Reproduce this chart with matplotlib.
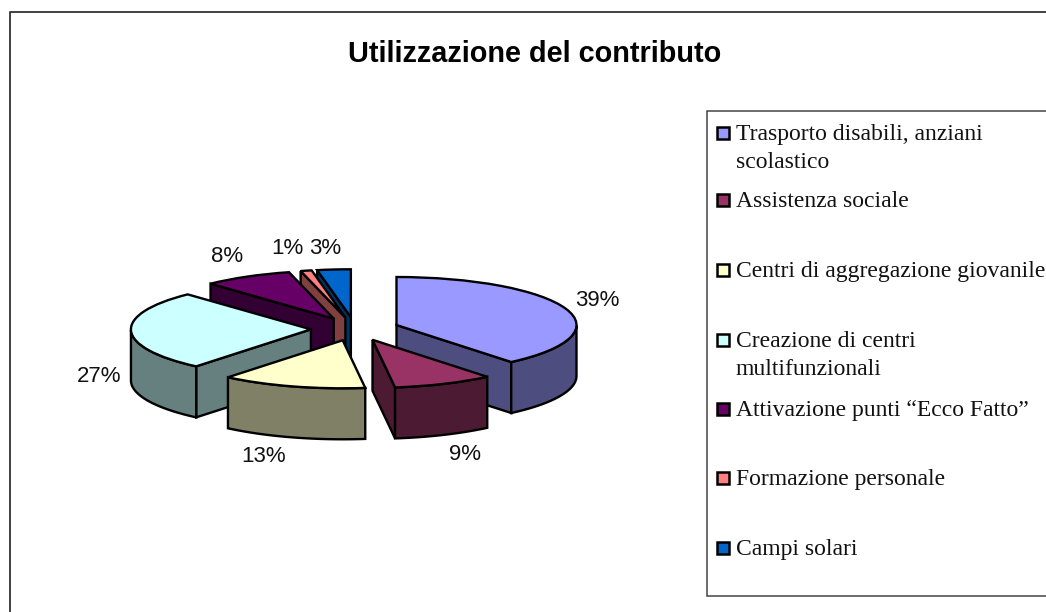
import numpy as np
import matplotlib
matplotlib.use('Agg')
import matplotlib.pyplot as plt
from matplotlib.patches import Polygon, Rectangle

# data
labels = ['Trasporto disabili, anziani\nscolastico', 'Assistenza sociale',
          'Centri di aggregazione giovanile', 'Creazione di centri\nmultifunzionali',
          'Attivazione punti \u201cEcco Fatto\u201d', 'Formazione personale', 'Campi solari']
values = [39, 9, 13, 27, 8, 1, 3]
top_colors = ['#9999ff', '#993366', '#ffffcc', '#ccffff', '#660066', '#ff8080', '#0066cc']
side_colors = ['#4d4d80', '#4d1a33', '#808066', '#668080', '#330033', '#804040', '#003366']

W, H = 1046, 612
cx, cy = 355, 329     # pie centre in pixels
rx, ry = 180, 48      # one data unit in pixels
depth = 51 / ry
explode = 0.245

fig = plt.figure(figsize=(W / 100, H / 100), dpi=100)
ax = fig.add_axes([0, 0, 1, 1])
wedges, _ = ax.pie(values, explode=[explode] * len(values), startangle=90, counterclock=False,
                   colors=top_colors, wedgeprops={'edgecolor': 'black', 'linewidth': 1.7})
ax.set_aspect('auto')
ax.set_xlim(-cx / rx, (W - cx) / rx)
ax.set_ylim(-(H - cy) / ry, cy / ry)

# side walls of each slice, painted back to front
order = sorted(range(len(wedges)), key=lambda i: -np.sin(np.radians((wedges[i].theta1 + wedges[i].theta2) / 2)))
for z, i in enumerate(order):
    w = wedges[i]
    c = np.array(w.center)
    t = np.radians(np.linspace(w.theta1, w.theta2, 80))
    rim = np.column_stack([c[0] + np.cos(t), c[1] + np.sin(t)])
    down = np.array([0, -depth])
    # only the cut faces that look towards the viewer
    for end, normal in ((rim[0], w.theta1 - 90), (rim[-1], w.theta2 + 90)):
        if np.sin(np.radians(normal)) < -1e-6:
            ax.add_patch(Polygon([c, end, end + down, c + down], facecolor=side_colors[i],
                                 edgecolor='black', lw=1.7, zorder=2 + z * 3))
    front = rim[np.sin(t) < 0]
    if len(front) > 1:
        ax.add_patch(Polygon(np.vstack([front, front[::-1] + down]), facecolor=side_colors[i],
                             edgecolor='black', lw=1.7, zorder=3 + z * 3))
    w.set_zorder(4 + z * 3)

# everything else in pixel coordinates
ov = fig.add_axes([0, 0, 1, 1], facecolor='none')
ov.set_xlim(0, W)
ov.set_ylim(H, 0)
ov.axis('off')
ov.plot([10, 10, W], [H, 12, 12], color='#333333', lw=1.3, clip_on=False)
ov.text(535, 54, 'Utilizzazione del contributo', family='Liberation Sans', fontweight='bold',
        fontsize=20.8, ha='center', va='center', color='black')

pct_pos = [(597, 300), (465, 454), (264, 457), (99, 377), (227, 256), (287, 249), (325, 249)]
for v, (x, y) in zip(values, pct_pos):
    ov.text(x, y, f'{v}%', family='Liberation Sans', fontsize=16, ha='center', va='center', color='#111111')

# legend
ov.add_patch(Rectangle((706.5, 110.5), W, 485, facecolor='white', edgecolor='#444444', lw=1.1))
legend_y = [133, 200, 270, 340, 409, 478, 548]
for lab, col, y in zip(labels, top_colors, legend_y):
    ov.add_patch(Rectangle((716.5, y - 6.5), 12, 12, facecolor=col, edgecolor='black', lw=1.8, zorder=3))
    ov.text(736, y - 9, lab, family='Liberation Serif', fontsize=17, ha='left', va='top',
            linespacing=1.42, color='#111111')

fig.savefig('out.png', dpi=100)
